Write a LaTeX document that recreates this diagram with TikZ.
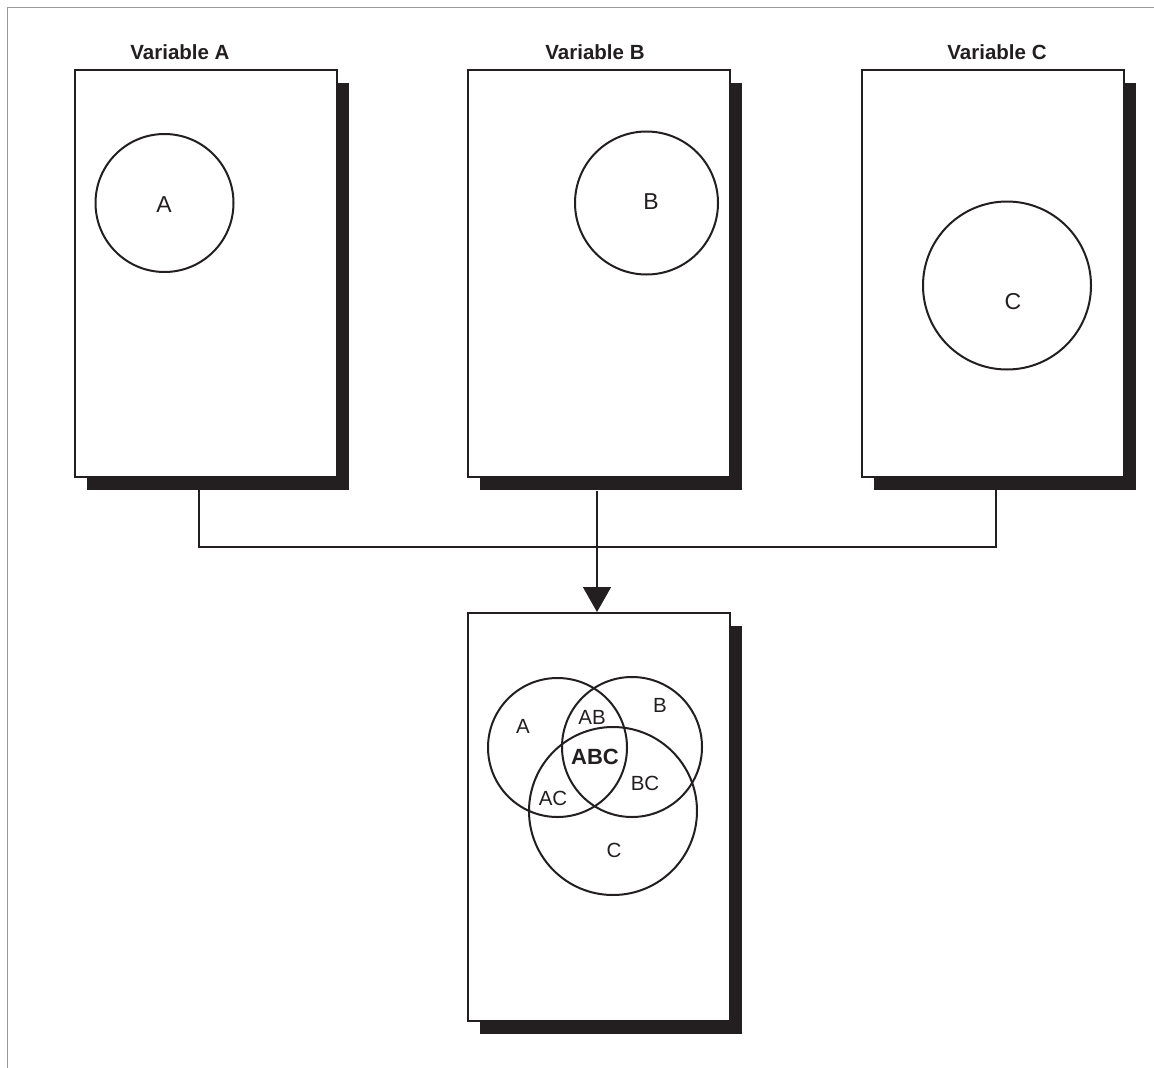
\documentclass[tikz,border=0pt]{standalone}
\usepackage{fontspec}
\setmainfont{Liberation Sans}
\usetikzlibrary{arrows.meta,shadows}
\definecolor{ink}{HTML}{231F20}
\begin{document}
\begin{tikzpicture}[x=1pt,y=-1pt,
  panel/.style={draw=ink, line width=1.8pt, fill=white, inner sep=0pt,
    minimum width=262pt, minimum height=407pt, anchor=north west,
    drop shadow={shadow xshift=12.5pt, shadow yshift=-13pt, fill=ink, opacity=1}},
  ring/.style={circle, draw=ink, line width=2pt, inner sep=0pt},
  title/.style={font=\fontsize{20.5}{24}\selectfont\bfseries, text=ink, inner sep=0pt},
  lbl/.style={font=\fontsize{20.5}{24}\selectfont, text=ink, inner sep=0pt},
  biglbl/.style={font=\fontsize{23}{27}\selectfont, text=ink, inner sep=0pt},
  conn/.style={draw=ink, line width=1.5pt}
]
\useasboundingbox (0,0) rectangle (1154,1068);
\draw[gray!80, line width=0.9pt] (7,1068) -- (7,7) -- (1154,7);

% connector points
\coordinate (cA) at (199,482);
\coordinate (cC) at (996,482);
\coordinate (j) at (597,547);

% panels
\node[panel] (boxA) at (74,69) {};
\node[panel] (boxB) at (467,69) {};
\node[panel] (boxC) at (861,69) {};
\node[panel, minimum height=408pt] (boxD) at (467,612) {};

\draw[conn] (cA) |- (j) -| (cC);
\draw[conn, -{Triangle[length=25pt, width=28pt]}] (j |- boxB.south) ++(0,13) -- (j |- boxD.north);

% titles
\node[title] (tA) at (180,52) {Variable A};
\node[title] (tB) at (595,52) {Variable B};
\node[title] (tC) at (997,52) {Variable C};

% single circles
\node[ring, minimum size=138pt] (cirA) at (164.5,203) {};
\node[biglbl] (lA) at (164,205) {A};
\node[ring, minimum size=143pt] (cirB) at (646.5,203) {};
\node[biglbl] (lB) at (651,202) {B};
\node[ring, minimum size=168pt] (cirC) at (1007,285.5) {};
\node[biglbl] (lC) at (1013,302) {C};

% venn
\node[ring, minimum size=139pt] (vA) at (557.5,747.5) {};
\node[ring, minimum size=140pt] (vB) at (632,747) {};
\node[ring, minimum size=168pt] (vC) at (613,811) {};
\node[lbl] (vlA) at (523,726) {A};
\node[lbl] (vlAB) at (592,717) {AB};
\node[lbl] (vlB) at (660,705) {B};
\node[lbl, font=\fontsize{22}{26}\selectfont\bfseries] (vlABC) at (595,757) {ABC};
\node[lbl] (vlAC) at (553,798) {AC};
\node[lbl] (vlBC) at (645,783) {BC};
\node[lbl] (vlC) at (614,850) {C};
\end{tikzpicture}
\end{document}
